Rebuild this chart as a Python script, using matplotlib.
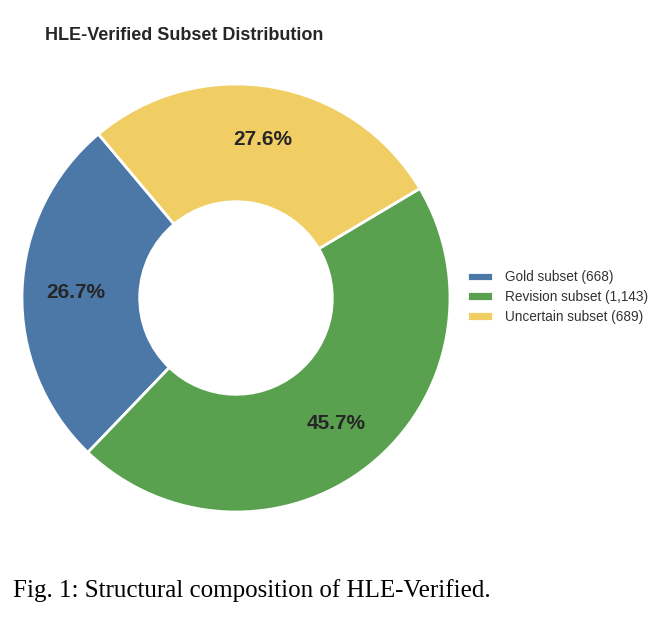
import matplotlib
matplotlib.use("Agg")
import matplotlib.pyplot as plt

# subset sizes
labels = ["Gold subset", "Revision subset", "Uncertain subset"]
counts = [668, 1143, 689]
colors = ["#4C78A8", "#59A14F", "#F1CE63"]

plt.rcParams["font.family"] = ["Liberation Sans", "DejaVu Sans"]
ink = "#262626"

fig = plt.figure(figsize=(6.72, 6.21), dpi=100)
W, H = 672, 621
# pie axes: center (236, 298) px, radius 214 px
ax = fig.add_axes([22 / W, 1 - 512 / H, 428 / W, 428 / H])

wedges, texts, autotexts = ax.pie(
    counts,
    colors=colors,
    startangle=130,
    autopct="%1.1f%%",
    pctdistance=0.75,
    radius=1.0,
    wedgeprops=dict(width=0.55, edgecolor="white", linewidth=2),
    textprops=dict(color=ink, fontsize=15, fontweight="bold"),
)
ax.set_xlim(-1, 1)
ax.set_ylim(-1, 1)
ax.set_aspect("equal")

leg_labels = [f"{l} ({c:,})" for l, c in zip(labels, counts)]
fig.legend(
    wedges, leg_labels,
    loc="center left", bbox_to_anchor=(455 / W, 1 - 297 / H),
    frameon=False, fontsize=9.8, handlelength=1.9, handleheight=0.7,
    handletextpad=0.9, labelspacing=0.42, labelcolor="#333333",
)

fig.text(45 / W, 1 - 35 / H, "HLE-Verified Subset Distribution",
         ha="left", va="center", fontsize=13, fontweight="bold", color=ink)

fig.text(13 / W, 1 - 597 / H, "Fig. 1: Structural composition of HLE-Verified.",
         ha="left", va="baseline", fontsize=18, color="black",
         family=["Liberation Serif", "DejaVu Serif"])

fig.savefig("out.png", dpi=100, facecolor="white")
